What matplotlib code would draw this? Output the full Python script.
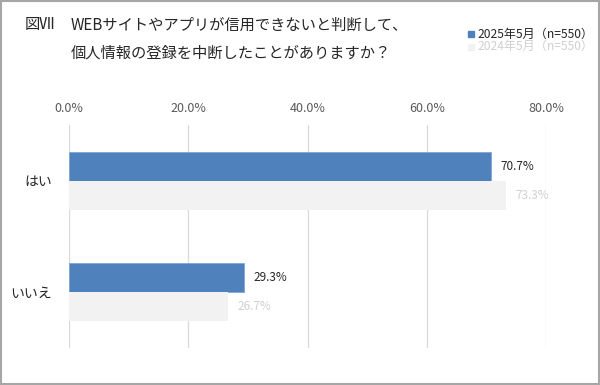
import matplotlib.pyplot as plt
from matplotlib.patches import Rectangle
import numpy as np

plt.rcParams['font.family'] = ['Noto Sans CJK JP', 'DejaVu Sans']

categories = ['はい', 'いいえ']
values_2025 = [70.7, 29.3]
values_2024 = [73.3, 26.7]
series_labels = ['2025年5月（n=550）', '2024年5月（n=550）']
x_ticks = [0, 20, 40, 60, 80]
title_fig = '図Ⅶ'
title_line1 = 'WEBサイトやアプリが信用できないと判断して、'
title_line2 = '個人情報の登録を中断したことがありますか？'

blue = '#4f81bd'
light = '#f2f2f2'
light_text = '#d0d0d0'
dark = '#262626'

fig = plt.figure(figsize=(6, 3.85), dpi=100)
ax = fig.add_axes([0.115, 0.096, 0.795, 0.579])

y = np.arange(len(categories))
h = 0.26
ax.barh(y - h / 2, values_2025, height=h, color=blue, edgecolor='#7fa6d6', linewidth=0.6, zorder=3)
ax.barh(y + h / 2, values_2024, height=h, color=light, zorder=3)

for yi, v in zip(y, values_2025):
    ax.text(v + 1.6, yi - h / 2, f'{v:.1f}%', va='center', ha='left', fontsize=8.5, color=dark)
for yi, v in zip(y, values_2024):
    ax.text(v + 1.6, yi + h / 2, f'{v:.1f}%', va='center', ha='left', fontsize=8.5, color=light_text)

ax.set_xlim(0, 80)
ax.set_ylim(1.5, -0.5)
ax.set_xticks(x_ticks)
ax.set_xticklabels([f'{t:.1f}%' for t in x_ticks], fontsize=9, color='#595959')
ax.xaxis.tick_top()
ax.tick_params(axis='x', length=0, pad=7)
ax.set_yticks(y)
ax.set_yticklabels(categories, fontsize=10, color=dark)
ax.tick_params(axis='y', length=0, pad=12)
ax.grid(axis='x', color='#d9d9d9', linewidth=0.9, zorder=0)
for s in ax.spines.values():
    s.set_visible(False)

fig.text(25 / 600, 1 - 25 / 385, title_fig, fontsize=11, color=dark, va='center', ha='left')
fig.text(71 / 600, 1 - 25 / 385, title_line1, fontsize=11, color=dark, va='center', ha='left')
fig.text(71 / 600, 1 - 53 / 385, title_line2, fontsize=11, color=dark, va='center', ha='left')

# legend
for i, (lab, col, tcol) in enumerate(zip(series_labels, [blue, light], [dark, light_text])):
    yy = 1 - (34 + i * 12.5) / 385
    fig.patches.append(Rectangle((468 / 600, yy - 3 / 385), 6 / 600, 6 / 385,
                                 transform=fig.transFigure, color=col))
    fig.text(477 / 600, yy, lab, fontsize=8.7, color=tcol, va='center', ha='left')

# border
fig.patches.append(Rectangle((0.001, 0.002), 0.997, 0.996, transform=fig.transFigure,
                             fill=False, edgecolor='#a6a6a6', linewidth=1.5))

fig.savefig('out.png', dpi=100)
